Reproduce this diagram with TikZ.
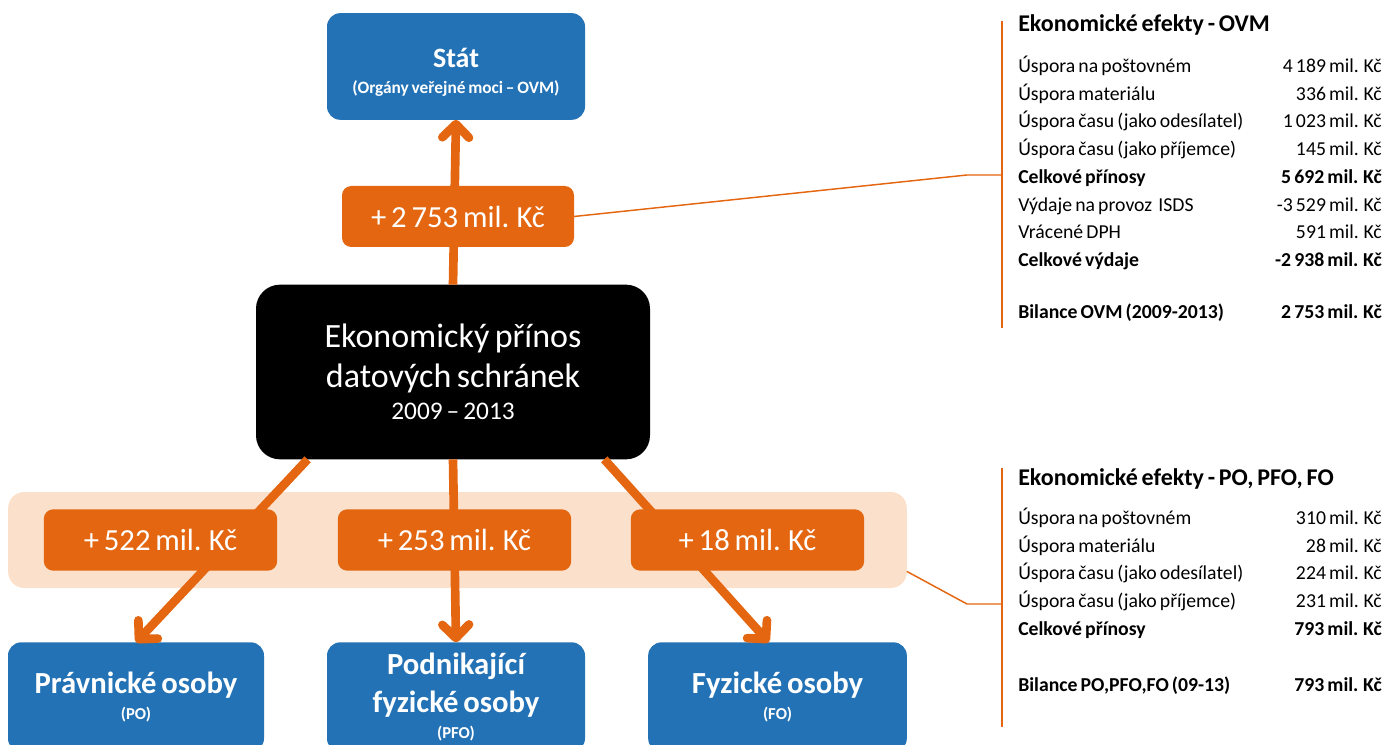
\documentclass[tikz,border=0pt]{standalone}
\usepackage{fontspec}
\setmainfont{Carlito}[WordSpace=0.7]
\usepackage{tikz}
\usetikzlibrary{arrows.meta,positioning}
\definecolor{ovmblue}{RGB}{35,114,181}
\definecolor{gainorange}{RGB}{228,102,16}
\definecolor{bandpeach}{RGB}{251,224,204}

\begin{document}
\begin{tikzpicture}[x=0.75pt, y=-0.75pt,
    party/.style={fill=ovmblue, text=white, rounded corners=10pt, align=center, inner sep=0pt, outer sep=0pt,
        minimum height=82pt, font=\fontsize{23}{28.5}\selectfont\bfseries},
    gain/.style={fill=gainorange, text=white, rounded corners=7pt, inner sep=0pt, outer sep=0pt,
        minimum width=175pt, minimum height=46pt, font=\fontsize{23}{26}\selectfont},
    flow/.style={gainorange, line width=6.5pt, -{Straight Barb[round,length=10pt,width=20pt]}},
    lead/.style={gainorange, line width=1.1pt},
    head/.style={anchor=base west, inner sep=0pt, font=\fontsize{18}{20}\selectfont\bfseries},
    row/.style={anchor=base west, inner sep=0pt, font=\fontsize{14.8}{16}\selectfont},
    val/.style={anchor=base east, inner sep=0pt, font=\fontsize{14.8}{16}\selectfont},
    sumrow/.style={row, font=\fontsize{14.8}{16}\selectfont\bfseries},
    sumval/.style={val, font=\fontsize{14.8}{16}\selectfont\bfseries},
  ]
    \useasboundingbox (0,0) rectangle (1385,745);
    \clip (0,0) rectangle (1385,745);

    % Band behind the lower amounts
    \node[fill=bandpeach, rounded corners=12pt, minimum width=674pt, minimum height=72pt, outer sep=0pt] (band) at (457.5,540) {};

    % Centre and parties
    \node[fill=black, text=white, rounded corners=18pt, align=center, inner sep=0pt, outer sep=0pt,
        minimum width=295.5pt, minimum height=131pt, font=\fontsize{25.5}{30}\selectfont] (core) at (453,372)
        {Ekonomický přínos\\datových schránek\\[-6pt]{\fontsize{19}{20}\selectfont 2009 – 2013}};
    \node[party, minimum width=193.5pt, minimum height=80pt, font=\fontsize{21}{20}\selectfont\bfseries] (stat) at (456,66.5)
        {\rule{0pt}{23pt}Stát\\{\fontsize{13}{14}\selectfont (Orgány veřejné moci – OVM)}};
    \node[party, minimum width=192pt] (po) at (136,697) {Právnické osoby\\[-9.5pt]{\fontsize{12.5}{13}\selectfont (PO)}};
    \node[party, minimum width=193.5pt] (pfo) at (456,697) {Podnikající\\fyzické osoby\\[-9.5pt]{\fontsize{12.5}{13}\selectfont (PFO)}};
    \node[party, minimum width=194pt] (fo) at (777.5,697) {Fyzické osoby\\[-9.5pt]{\fontsize{12.5}{13}\selectfont (FO)}};

    % Flows
    \draw[flow] (core.north) -- (stat.south);
    \draw[flow] (core.-149.4) -- (po.north);
    \draw[flow] (core.south) -- (pfo.north);
    \draw[flow] (core.-30.7) -- (fo.99);

    % Amounts
    \node[gain, minimum width=174pt, minimum height=45.75pt] (amtTop) at (458,216.5) {+ 2~753 mil. Kč};
    \node[gain] (amtPo) at (160.5,540) {+ 522 mil. Kč};
    \node[gain] (amtPfo) at (454.5,540) {+ 253 mil. Kč};
    \node[gain] (amtFo) at (747.5,540) {+ 18 mil. Kč};

    % Leads to the tables
    \coordinate (ovmTop) at (1002,21);
    \coordinate (ovmBot) at (1002,328);
    \coordinate (ovmKnee) at (967,175);
    \draw[lead] (ovmTop) -- (ovmBot);
    \draw[lead] (amtTop.east) -- (ovmKnee) -- (ovmKnee -| ovmTop);

    \coordinate (poTop) at (1002,468);
    \coordinate (poBot) at (1002,727);
    \coordinate (poKnee) at (967,604);
    \draw[lead] (poTop) -- (poBot);
    \draw[lead] (band.-4.8) -- (poKnee) -- (poKnee -| poTop);

    % Table OVM
    \node[head] (ovmHead) at (1018,32) {Ekonomické efekty - OVM};
    \node[row] (ovmR1) at (1018,73) {Úspora na poštovném};
    \node[val] (ovmV1) at (1382,73) {4~189 mil. Kč};
    \node[row] (ovmR2) at (1018,101) {Úspora materiálu};
    \node[val] (ovmV2) at (1382,101) {336 mil. Kč};
    \node[row] (ovmR3) at (1018,128) {Úspora času (jako odesílatel)};
    \node[val] (ovmV3) at (1382,128) {1~023 mil. Kč};
    \node[row] (ovmR4) at (1018,156) {Úspora času (jako příjemce)};
    \node[val] (ovmV4) at (1382,156) {145 mil. Kč};
    \node[sumrow] (ovmR5) at (1018,184) {Celkové přínosy};
    \node[sumval] (ovmV5) at (1382,184) {5~692 mil. Kč};
    \node[row] (ovmR6) at (1018,212) {Výdaje na provoz~ ISDS};
    \node[val] (ovmV6) at (1382,212) {-3~529 mil. Kč};
    \node[row] (ovmR7) at (1018,239) {Vrácené DPH};
    \node[val] (ovmV7) at (1382,239) {591 mil. Kč};
    \node[sumrow] (ovmR8) at (1018,267) {Celkové výdaje};
    \node[sumval] (ovmV8) at (1382,267) {-2~938 mil. Kč};
    \node[sumrow] (ovmR9) at (1018,319) {Bilance OVM (2009-2013)};
    \node[sumval] (ovmV9) at (1382,319) {2~753 mil. Kč};

    % Table PO, PFO, FO
    \node[head] (poHead) at (1018,485) {Ekonomické efekty - PO, PFO, FO};
    \node[row] (poR1) at (1018,524) {Úspora na poštovném};
    \node[val] (poV1) at (1382,524) {310 mil. Kč};
    \node[row] (poR2) at (1018,552) {Úspora materiálu};
    \node[val] (poV2) at (1382,552) {28 mil. Kč};
    \node[row] (poR3) at (1018,579) {Úspora času (jako odesílatel)};
    \node[val] (poV3) at (1382,579) {224 mil. Kč};
    \node[row] (poR4) at (1018,607) {Úspora času (jako příjemce)};
    \node[val] (poV4) at (1382,607) {231 mil. Kč};
    \node[sumrow] (poR5) at (1018,635) {Celkové přínosy};
    \node[sumval] (poV5) at (1382,635) {793 mil. Kč};
    \node[sumrow] (poR6) at (1018,691) {Bilance PO,PFO,FO (09-13)};
    \node[sumval] (poV6) at (1382,691) {793 mil. Kč};
\end{tikzpicture}
\end{document}
